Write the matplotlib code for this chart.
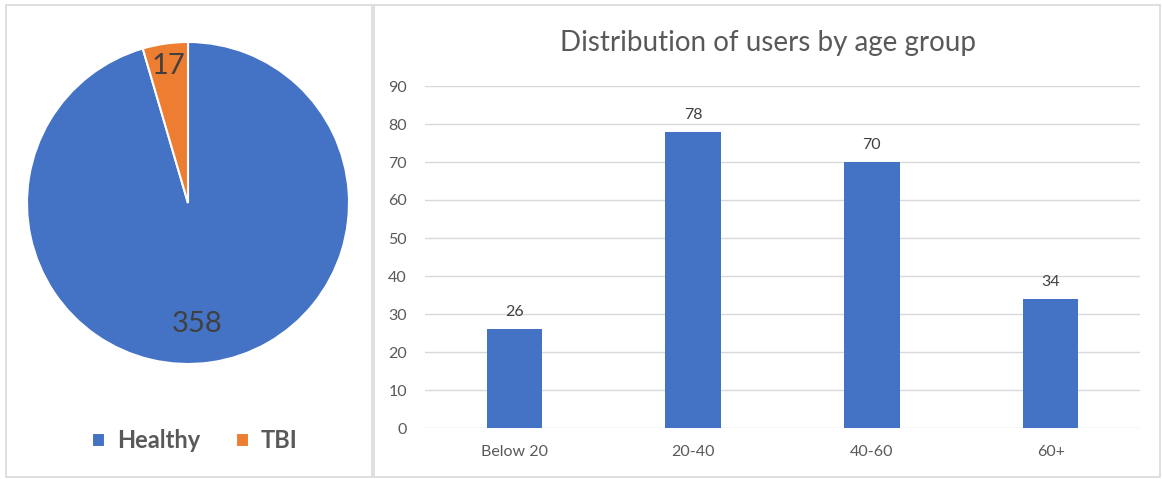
import numpy as np
import matplotlib.pyplot as plt
from matplotlib.patches import Rectangle

plt.rcParams['font.family'] = ['Lato', 'DejaVu Sans']

# pie data
pie_labels = ['Healthy', 'TBI']
pie_counts = [358, 17]
pie_colors = ['#4472C4', '#ED7D31']

# bar data
age_groups = ['Below 20', '20-40', '40-60', '60+']
users = [26, 78, 70, 34]

W, H = 1162, 479
fig = plt.figure(figsize=(W/100, H/100), dpi=100)

def px(x0, y0, x1, y1):
    # pixel box (top-left origin) -> figure fraction rect
    return [x0/W, 1 - y1/H, (x1 - x0)/W, (y1 - y0)/H]

# panel borders
for (x0, y0, x1, y1) in [(6, 5, 372, 477), (374, 5, 1160, 477)]:
    r = px(x0, y0, x1, y1)
    fig.patches.append(Rectangle((r[0], r[1]), r[2], r[3], transform=fig.transFigure,
                                 fill=False, edgecolor='#d9d9d9', linewidth=1.2))

# pie
cx, cy, rad = 188, 203, 161
ax1 = fig.add_axes(px(cx - 170, cy - 170, cx + 170, cy + 170))
wedges, _ = ax1.pie(pie_counts, colors=pie_colors, startangle=90, counterclock=False,
                    wedgeprops=dict(edgecolor='white', linewidth=1.5))
ax1.set_xlim(-170/rad, 170/rad)
ax1.set_ylim(-170/rad, 170/rad)
ax1.set_aspect('equal')
ax1.axis('off')
for w, n, dist in zip(wedges, pie_counts, [0.76, 0.86]):
    ang = np.deg2rad((w.theta1 + w.theta2) / 2)
    ax1.text(dist*np.cos(ang) - 0.05*(n > 100), dist*np.sin(ang), str(n), ha='center', va='center',
             fontsize=21, color='#404040')
fig.legend(wedges, pie_labels, loc='center', bbox_to_anchor=(195/W, 1 - 441/H),
           ncol=2, frameon=False, handlelength=0.55, handleheight=0.55, handletextpad=0.5,
           columnspacing=1.5, prop=dict(size=17, weight='bold'), labelcolor='#595959')

# bar chart
ax2 = fig.add_axes(px(425, 86, 1140, 428))
x = np.arange(len(age_groups))
bars = ax2.bar(x, users, width=0.31, color='#4472C4', zorder=3)
ax2.set_xlim(-0.5, len(age_groups) - 0.5)
ax2.set_ylim(0, 90)
ax2.set_yticks(range(0, 91, 10))
ax2.set_xticks(x)
ax2.set_xticklabels(age_groups)
ax2.grid(axis='y', color='#d9d9d9', linewidth=1, zorder=0)
for s in ax2.spines.values():
    s.set_visible(False)
ax2.tick_params(axis='both', length=0, labelsize=11.5, labelcolor='#595959')
ax2.tick_params(axis='y', pad=13)
ax2.tick_params(axis='x', pad=12)
for b, v in zip(bars, users):
    ax2.annotate(str(v), (b.get_x() + b.get_width()/2, v), xytext=(0, 7),
                 textcoords='offset points', ha='center', va='bottom',
                 fontsize=11.5, color='#404040')
fig.text(768/W, 1 - 43/H, 'Distribution of users by age group', ha='center', va='center',
         fontsize=20, color='#595959')

fig.savefig('out.png', dpi=100)
